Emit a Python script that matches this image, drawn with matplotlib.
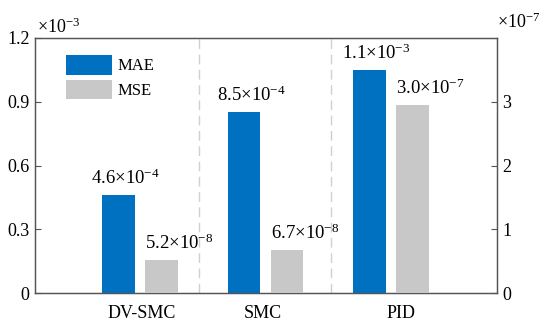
import matplotlib
matplotlib.use("Agg")
import matplotlib.pyplot as plt
import numpy as np

plt.rcParams['font.family'] = ['Liberation Serif', 'DejaVu Serif']
plt.rcParams['mathtext.fontset'] = 'custom'
plt.rcParams['mathtext.rm'] = 'Liberation Serif'
plt.rcParams['mathtext.it'] = 'Liberation Serif:italic'
plt.rcParams['mathtext.bf'] = 'Liberation Serif:bold'

categories = ['DV-SMC', 'SMC', 'PID']
mae = [4.6e-4, 8.5e-4, 1.05e-3]
mse = [5.2e-8, 6.7e-8, 2.95e-7]
mae_labels = [r'4.6×10$^{-4}$', r'8.5×10$^{-4}$', r'1.1×10$^{-3}$']
mse_labels = [r'5.2×10$^{-8}$', r'6.7×10$^{-8}$', r'3.0×10$^{-7}$']
left_ticks = [0, 0.3, 0.6, 0.9, 1.2]
right_ticks = [0, 1, 2, 3]

blue = '#0070C0'
gray = '#C8C8C8'
spine_c = '#555555'

fig = plt.figure(figsize=(5.5, 3.29), dpi=100)
ax = fig.add_axes([35/550, 1-293/329, (497-35)/550, (293-38)/329])
ax2 = ax.twinx()

x = np.array([1.0, 2.0, 3.0])
w = 0.26
off = 0.17
ax.bar(x - off, np.array(mae) * 1e3, width=w, color=blue, label='MAE', zorder=3)
ax2.bar(x + off, np.array(mse) * 1e7, width=w, color=gray, label='MSE', zorder=3)

ax.set_xlim(0.163, 3.845)
ax.set_ylim(0, 1.2)
ax2.set_ylim(0, 4.0)
ax.set_yticks(left_ticks)
ax.set_yticklabels(['0', '0.3', '0.6', '0.9', '1.2'])
ax2.set_yticks(right_ticks)
ax2.set_yticklabels([str(t) for t in right_ticks])

ax.set_xticks([1.016, 1.98, 3.08])
ax.set_xticklabels(categories)

for a in (ax, ax2):
    for s in a.spines.values():
        s.set_color(spine_c)
        s.set_linewidth(0.9)
ax.tick_params(axis='y', direction='in', length=4, color=spine_c, labelsize=13, pad=4)
ax2.tick_params(axis='y', direction='in', length=4, color=spine_c, labelsize=13, pad=4)
ax.tick_params(axis='x', length=0, labelsize=13, pad=9)

for xv in [1.47, 2.52]:
    ax.axvline(xv, color='#D0D0D0', linestyle=(0, (7, 4)), linewidth=1.0, zorder=1)

for i in range(3):
    ax.annotate(mae_labels[i], (x[i] - off - w/2, mae[i]*1e3), xytext=(-11, 11),
                textcoords='offset pixels', ha='left', va='baseline', fontsize=13.5, zorder=4)
    ax2.annotate(mse_labels[i], (x[i] + off - w/2, mse[i]*1e7), xytext=(0, 11),
                 textcoords='offset pixels', ha='left', va='baseline', fontsize=13.5, zorder=4)

fig.text(37/550, 1-33/329, r'×10$^{-3}$', fontsize=13, ha='left', va='baseline')
fig.text(497/550, 1-28/329, r'×10$^{-7}$', fontsize=13, ha='left', va='baseline')

h1, l1 = ax.get_legend_handles_labels()
h2, l2 = ax2.get_legend_handles_labels()
leg = ax2.legend(h1 + h2, l1 + l2, loc='upper left', bbox_to_anchor=(0.052, 0.96),
                 frameon=False, fontsize=12, handlelength=2.8, handleheight=1.45,
                 labelspacing=0.3, handletextpad=0.3, borderaxespad=0)

fig.savefig('out.png', dpi=100)
